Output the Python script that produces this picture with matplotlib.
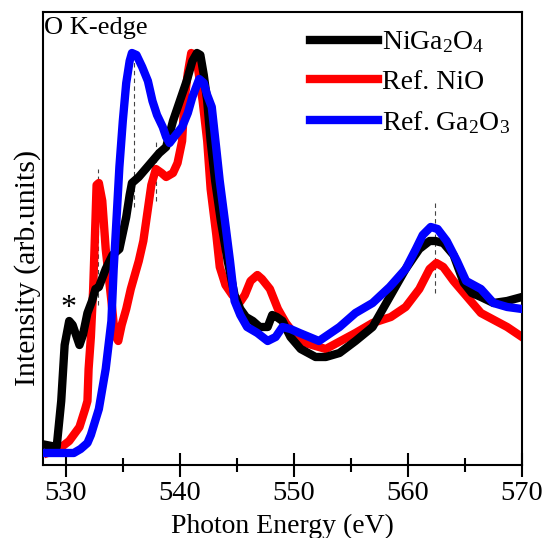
import matplotlib
matplotlib.use("Agg")
import matplotlib.pyplot as plt

plt.rcParams['font.family'] = ['Liberation Serif', 'DejaVu Serif']
plt.rcParams['mathtext.fontset'] = 'custom'
plt.rcParams['mathtext.rm'] = 'Liberation Serif'
plt.rcParams['mathtext.it'] = 'Liberation Serif:italic'
plt.rcParams['mathtext.default'] = 'regular'

# NiGa2O4 (black)
e_niga = [528.3, 529.2, 529.6, 529.9, 530.3, 530.6, 531.2, 531.5, 531.9, 532.3,
          532.6, 532.9, 533.5, 534.1, 534.7, 535.0, 535.3, 535.6, 535.8, 536.4,
          537.3, 538.2, 538.8, 539.4, 540.0, 540.6, 541.1, 541.5, 541.8, 542.1,
          542.4, 542.7, 543.1, 543.6, 544.2, 544.8, 545.3, 545.8, 546.4, 547.0,
          547.7, 548.1, 548.5, 549.0, 549.7, 550.6, 551.9, 552.8, 554.0, 555.4,
          556.9, 558.4, 559.8, 561.0, 561.9, 562.4, 563.1, 564.0, 564.9, 565.6,
          566.4, 567.5, 568.7, 570.0]
i_niga = [0.02, 0.015, 0.13, 0.27, 0.33, 0.32, 0.27, 0.295, 0.35, 0.38,
          0.41, 0.415, 0.46, 0.495, 0.51, 0.55, 0.59, 0.645, 0.675, 0.69,
          0.72, 0.75, 0.765, 0.83, 0.88, 0.93, 0.98, 1.0, 0.995, 0.945,
          0.88, 0.78, 0.68, 0.58, 0.48, 0.395, 0.36, 0.34, 0.33, 0.315,
          0.315, 0.345, 0.34, 0.33, 0.29, 0.26, 0.24, 0.24, 0.25, 0.28,
          0.315, 0.39, 0.46, 0.51, 0.53, 0.53, 0.525, 0.495, 0.425, 0.40,
          0.39, 0.375, 0.38, 0.39]

# Ref. NiO (red)
e_nio = [528.4, 529.4, 530.3, 531.2, 531.7, 531.9, 532.0, 532.2, 532.4, 532.6,
         532.7, 532.9, 533.2, 533.5, 534.0, 534.3, 534.6, 534.9, 535.3, 535.7,
         536.2, 536.4, 536.8, 537.1, 537.5, 537.9, 538.4, 538.8, 539.4, 539.8,
         540.2, 540.4, 540.7, 541.0, 541.3, 541.6, 542.0, 542.4, 542.7, 543.2,
         543.5, 544.0, 544.6, 545.3, 545.7, 546.2, 546.8, 547.2, 547.9, 548.6,
         549.3, 550.1, 551.0, 552.8, 554.1, 555.4, 556.9, 558.5, 559.8, 561.0,
         561.9, 562.5, 563.1, 564.0, 564.6, 566.4, 568.7, 570.0]
i_nio = [0.0, 0.01, 0.03, 0.065, 0.11, 0.13, 0.21, 0.29, 0.41, 0.58,
         0.67, 0.675, 0.63, 0.51, 0.38, 0.295, 0.28, 0.32, 0.36, 0.41,
         0.46, 0.48, 0.53, 0.59, 0.67, 0.71, 0.70, 0.69, 0.70, 0.725,
         0.78, 0.88, 0.95, 1.0, 0.995, 0.96, 0.88, 0.78, 0.66, 0.545,
         0.465, 0.42, 0.395, 0.378, 0.395, 0.43, 0.445, 0.435, 0.41, 0.36,
         0.325, 0.295, 0.275, 0.26, 0.28, 0.30, 0.325, 0.34, 0.365, 0.41,
         0.46, 0.475, 0.465, 0.43, 0.41, 0.35, 0.315, 0.29]

# Ref. Ga2O3 (blue)
e_ga = [528.0, 529.4, 530.7, 531.3, 531.9, 532.2, 532.9, 533.5, 534.0, 534.2,
        534.4, 534.7, 535.0, 535.3, 535.6, 535.8, 536.2, 536.7, 537.2, 537.6,
        538.0, 538.5, 538.8, 539.1, 539.5, 540.2, 540.7, 541.1, 541.5, 541.7,
        542.1, 542.4, 542.8, 543.2, 543.5, 544.0, 544.4, 544.8, 545.3, 545.9,
        546.8, 547.7, 548.4, 549.0, 549.7, 550.5, 552.2, 554.0, 555.4, 556.9,
        558.4, 559.8, 560.7, 561.3, 562.0, 562.6, 563.4, 564.3, 565.1, 566.4,
        567.5, 568.7, 570.0]
i_ga = [0.0, 0.0, 0.0, 0.01, 0.025, 0.045, 0.11, 0.21, 0.33, 0.46,
        0.56, 0.715, 0.83, 0.925, 0.98, 1.0, 0.995, 0.965, 0.93, 0.88,
        0.845, 0.815, 0.79, 0.775, 0.79, 0.815, 0.85, 0.89, 0.92, 0.935,
        0.925, 0.895, 0.865, 0.76, 0.68, 0.57, 0.48, 0.38, 0.345, 0.315,
        0.30, 0.28, 0.29, 0.315, 0.31, 0.30, 0.28, 0.315, 0.35, 0.375,
        0.415, 0.46, 0.51, 0.545, 0.565, 0.56, 0.53, 0.48, 0.43, 0.41,
        0.375, 0.365, 0.36]

# guide lines: energy, lower and upper intensity
guide_e = [532.85, 536.0, 537.9, 562.4]
guide_lo = [0.37, 0.615, 0.63, 0.40]
guide_hi = [0.71, 0.99, 0.78, 0.625]

labels = ['NiGa$_2$O$_4$', 'Ref. NiO', 'Ref. Ga$_2$O$_3$']
major_ticks = [530, 540, 550, 560, 570]
minor_ticks = [535, 545, 555, 565]

fig = plt.figure(figsize=(5.44, 5.38), dpi=100)
ax = fig.add_axes([0.079, 0.1357, 0.8805, 0.842])

for e, lo, hi in zip(guide_e, guide_lo, guide_hi):
    ax.plot([e, e], [lo, hi], color='#444444', lw=0.8, ls=(0, (4, 3)), zorder=1)

ax.plot(e_niga, i_niga, color='black', lw=6, label=labels[0], zorder=3)
ax.plot(e_nio, i_nio, color='#ff0000', lw=6, label=labels[1], zorder=2)
ax.plot(e_ga, i_ga, color='#0000ff', lw=6, label=labels[2], zorder=4)

ax.set_xlim(528, 570)
ax.set_ylim(-0.03, 1.1025)
ax.set_xticks(major_ticks)
ax.set_xticklabels([str(t) for t in major_ticks], fontfamily='Liberation Serif')
ax.set_xticks(minor_ticks, minor=True)
ax.set_yticks([])
ax.tick_params(axis='x', which='major', direction='inout', length=17, width=1.5,
               labelsize=20.5, pad=3)
ax.tick_params(axis='x', which='minor', direction='inout', length=9.5, width=1.5)
for s in ax.spines.values():
    s.set_linewidth(1.5)

ax.set_xlabel('Photon Energy (eV)', fontsize=20, labelpad=5.5)
ax.set_ylabel('Intensity (arb.units)', fontsize=21.5)
ax.yaxis.set_label_coords(-0.004, 0.435)

ax.text(0.002, 0.989, 'O K-edge', transform=ax.transAxes, fontsize=19,
        ha='left', va='top')
ax.text(530.2, 0.36, '*', fontsize=23, ha='center', va='center')

ax.legend(loc='upper left', bbox_to_anchor=(0.557, 0.961), frameon=False,
          fontsize=20, handlelength=2.45, handletextpad=0.15, labelspacing=0.5,
          borderpad=0, borderaxespad=0)

fig.savefig('out.png', dpi=100)
